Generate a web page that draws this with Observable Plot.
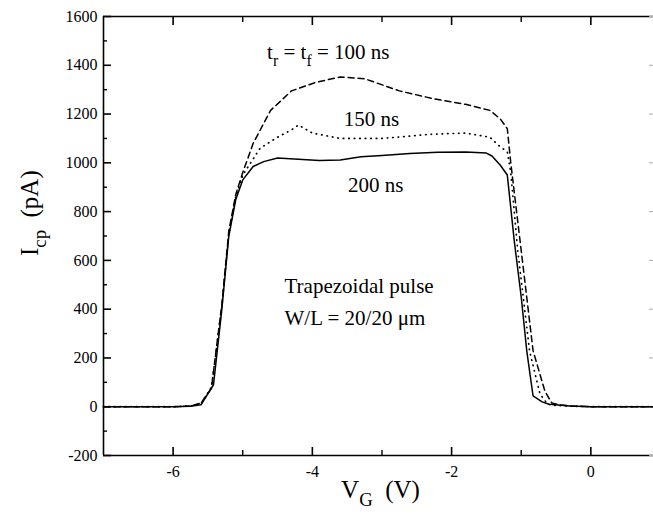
<!DOCTYPE html>
<html>
<head>
<meta charset="utf-8">
<script src="https://cdn.jsdelivr.net/npm/d3@7"></script>
<script src="https://cdn.jsdelivr.net/npm/@observablehq/plot@0.6"></script>
<style>
  html, body { margin: 0; padding: 0; background: #fff; }
  #chart { width: 653px; height: 530px; }
</style>
</head>
<body>
<div id="chart"></div>
<script>
// ---- data (V_G in volts, I_cp in pA) ----
const x200 = [-7, -6, -5.75, -5.6, -5.42, -5.3, -5.2, -5.1, -5.0, -4.85, -4.7, -4.5, -4.2, -3.9, -3.6, -3.3, -3.0, -2.6, -2.2, -1.8, -1.5, -1.42, -1.3, -1.2, -1.1, -1.0, -0.92, -0.83, -0.7, -0.6, -0.3, 0, 0.9];
const y200 = [0, 0, 2, 8, 90, 400, 700, 850, 930, 985, 1005, 1020, 1015, 1010, 1012, 1025, 1030, 1038, 1043, 1044, 1040, 1028, 990, 950, 680, 450, 228, 44, 20, 10, 3, 0, 0];

const x100 = [-7, -6, -5.75, -5.6, -5.45, -5.3, -5.2, -5.1, -5.0, -4.85, -4.6, -4.3, -3.95, -3.6, -3.25, -2.75, -2.25, -1.8, -1.45, -1.3, -1.2, -1.15, -1.0, -0.83, -0.66, -0.56, -0.45, -0.3, 0, 0.9];
const y100 = [0, 0, 3, 15, 75, 420, 720, 870, 960, 1080, 1215, 1295, 1330, 1352, 1345, 1295, 1262, 1240, 1215, 1180, 1140, 1000, 640, 230, 64, 15, 8, 3, 0, 0];

const x150 = [-7, -6, -5.75, -5.6, -5.45, -5.3, -5.2, -5.1, -5.0, -4.75, -4.5, -4.3, -4.2, -4.0, -3.6, -3.0, -2.3, -1.8, -1.45, -1.3, -1.2, -1.15, -1.05, -0.88, -0.73, -0.62, -0.5, -0.3, 0, 0.9];
const y150 = [0, 0, 3, 12, 80, 410, 710, 860, 950, 1060, 1105, 1135, 1155, 1122, 1100, 1100, 1117, 1122, 1105, 1065, 1045, 960, 640, 228, 52, 10, 5, 2, 0, 0];

const xMajor = [-6, -4, -2, 0];
const xMinor = [-5, -3, -1];
const yMajor = [-200, 0, 200, 400, 600, 800, 1000, 1200, 1400, 1600];
const yMinor = [-100, 100, 300, 500, 700, 900, 1100, 1300, 1500];

const midLabels = ["150 ns", "200 ns"];
const midX = [-3.15, -3.09];
const midY = [1180, 908];
const startLabels = ["t_{r} = t_{f} = 100 ns", "Trapezoidal pulse", "W/L = 20/20 \u03bcm"];
const startX = [-4.65, -4.40, -4.40];
const startY = [1452, 495, 364];

const xTitle = "V_{G}  (V)";
const yTitle = "I_{cp}  (pA)";

const rows = (xs, ys) => xs.map((x, i) => ({x, y: ys[i]}));
const mid = midLabels.map((t, i) => ({t, x: midX[i], y: midY[i]}));
const starts = startLabels.map((t, i) => ({t, x: startX[i], y: startY[i]}));

const fnt = "Liberation Serif";

const chart = Plot.plot({
  width: 653,
  height: 530,
  marginLeft: 103,
  marginRight: 0,
  marginTop: 16,
  marginBottom: 75,
  x: {domain: [-7, 0.9]},
  y: {domain: [-200, 1600]},
  marks: [
    Plot.ruleY([-200, 1600], {stroke: "#000", strokeWidth: 1.6}),
    Plot.ruleX([-7], {stroke: "#000", strokeWidth: 1.6}),
    Plot.axisY({ticks: yMajor, tickSize: -8, tickPadding: 14, tickFormat: d => String(d), label: null, strokeWidth: 1.6, fontSize: 16, fontFamily: fnt, fill: "#000"}),
    Plot.axisY({ticks: yMinor, tickSize: -4, tickFormat: () => "", label: null, strokeWidth: 1.4}),
    Plot.axisY({anchor: "right", ticks: yMajor, tickSize: -5, tickFormat: () => "", label: null, stroke: "#aaa"}),
    Plot.axisX({ticks: xMajor, tickSize: -8, tickPadding: 18, tickFormat: d => String(d), label: null, strokeWidth: 1.6, fontSize: 16, fontFamily: fnt, fill: "#000"}),
    Plot.axisX({ticks: xMinor, tickSize: -5, tickFormat: () => "", label: null, strokeWidth: 1.4}),
    Plot.axisX({anchor: "top", ticks: xMajor, tickSize: -8, tickFormat: () => "", label: null, strokeWidth: 1.6}),
    Plot.axisX({anchor: "top", ticks: xMinor, tickSize: -5, tickFormat: () => "", label: null, strokeWidth: 1.4}),
    Plot.line(rows(x200, y200), {x: "x", y: "y", stroke: "#000", strokeWidth: 1.5}),
    Plot.line(rows(x100, y100), {x: "x", y: "y", stroke: "#000", strokeWidth: 1.5, strokeDasharray: "6,4"}),
    Plot.line(rows(x150, y150), {x: "x", y: "y", stroke: "#000", strokeWidth: 1.7, strokeDasharray: "0.5,5", strokeLinecap: "round"}),
    Plot.text(mid, {x: "x", y: "y", text: "t", fontSize: 21, fill: "#000", fontFamily: fnt}),
    Plot.text(starts, {x: "x", y: "y", text: "t", fontSize: 21, fill: "#000", textAnchor: "start", fontFamily: fnt}),
    Plot.text([yTitle], {frameAnchor: "left", rotate: -90, dx: -74, dy: 20, fontSize: 25, fill: "#000", fontFamily: fnt}),
    Plot.text([xTitle], {frameAnchor: "bottom", dx: 2, dy: 42, fontSize: 25, fill: "#000", fontFamily: fnt})
  ]
});

// render "_{...}" as real subscript tspans
chart.querySelectorAll("text").forEach(el => {
  const s = el.textContent;
  if (!s.includes("_{")) return;
  const fs = parseFloat(el.getAttribute("font-size")) || parseFloat(el.closest("[font-size]")?.getAttribute("font-size")) || 16;
  el.textContent = "";
  const parts = s.split(/(_\{[^}]*\})/);
  let shifted = false;
  for (const p of parts) {
    if (!p) continue;
    const ts = document.createElementNS("http://www.w3.org/2000/svg", "tspan");
    if (p.startsWith("_{")) {
      ts.textContent = p.slice(2, -1);
      ts.setAttribute("font-size", (fs * 0.75) + "px");
      ts.setAttribute("dy", (fs * 0.32) + "px");
      shifted = true;
    } else {
      ts.textContent = p;
      if (shifted) { ts.setAttribute("dy", (-fs * 0.32) + "px"); shifted = false; }
    }
    el.appendChild(ts);
  }
});

document.getElementById("chart").appendChild(chart);
</script>
</body>
</html>
